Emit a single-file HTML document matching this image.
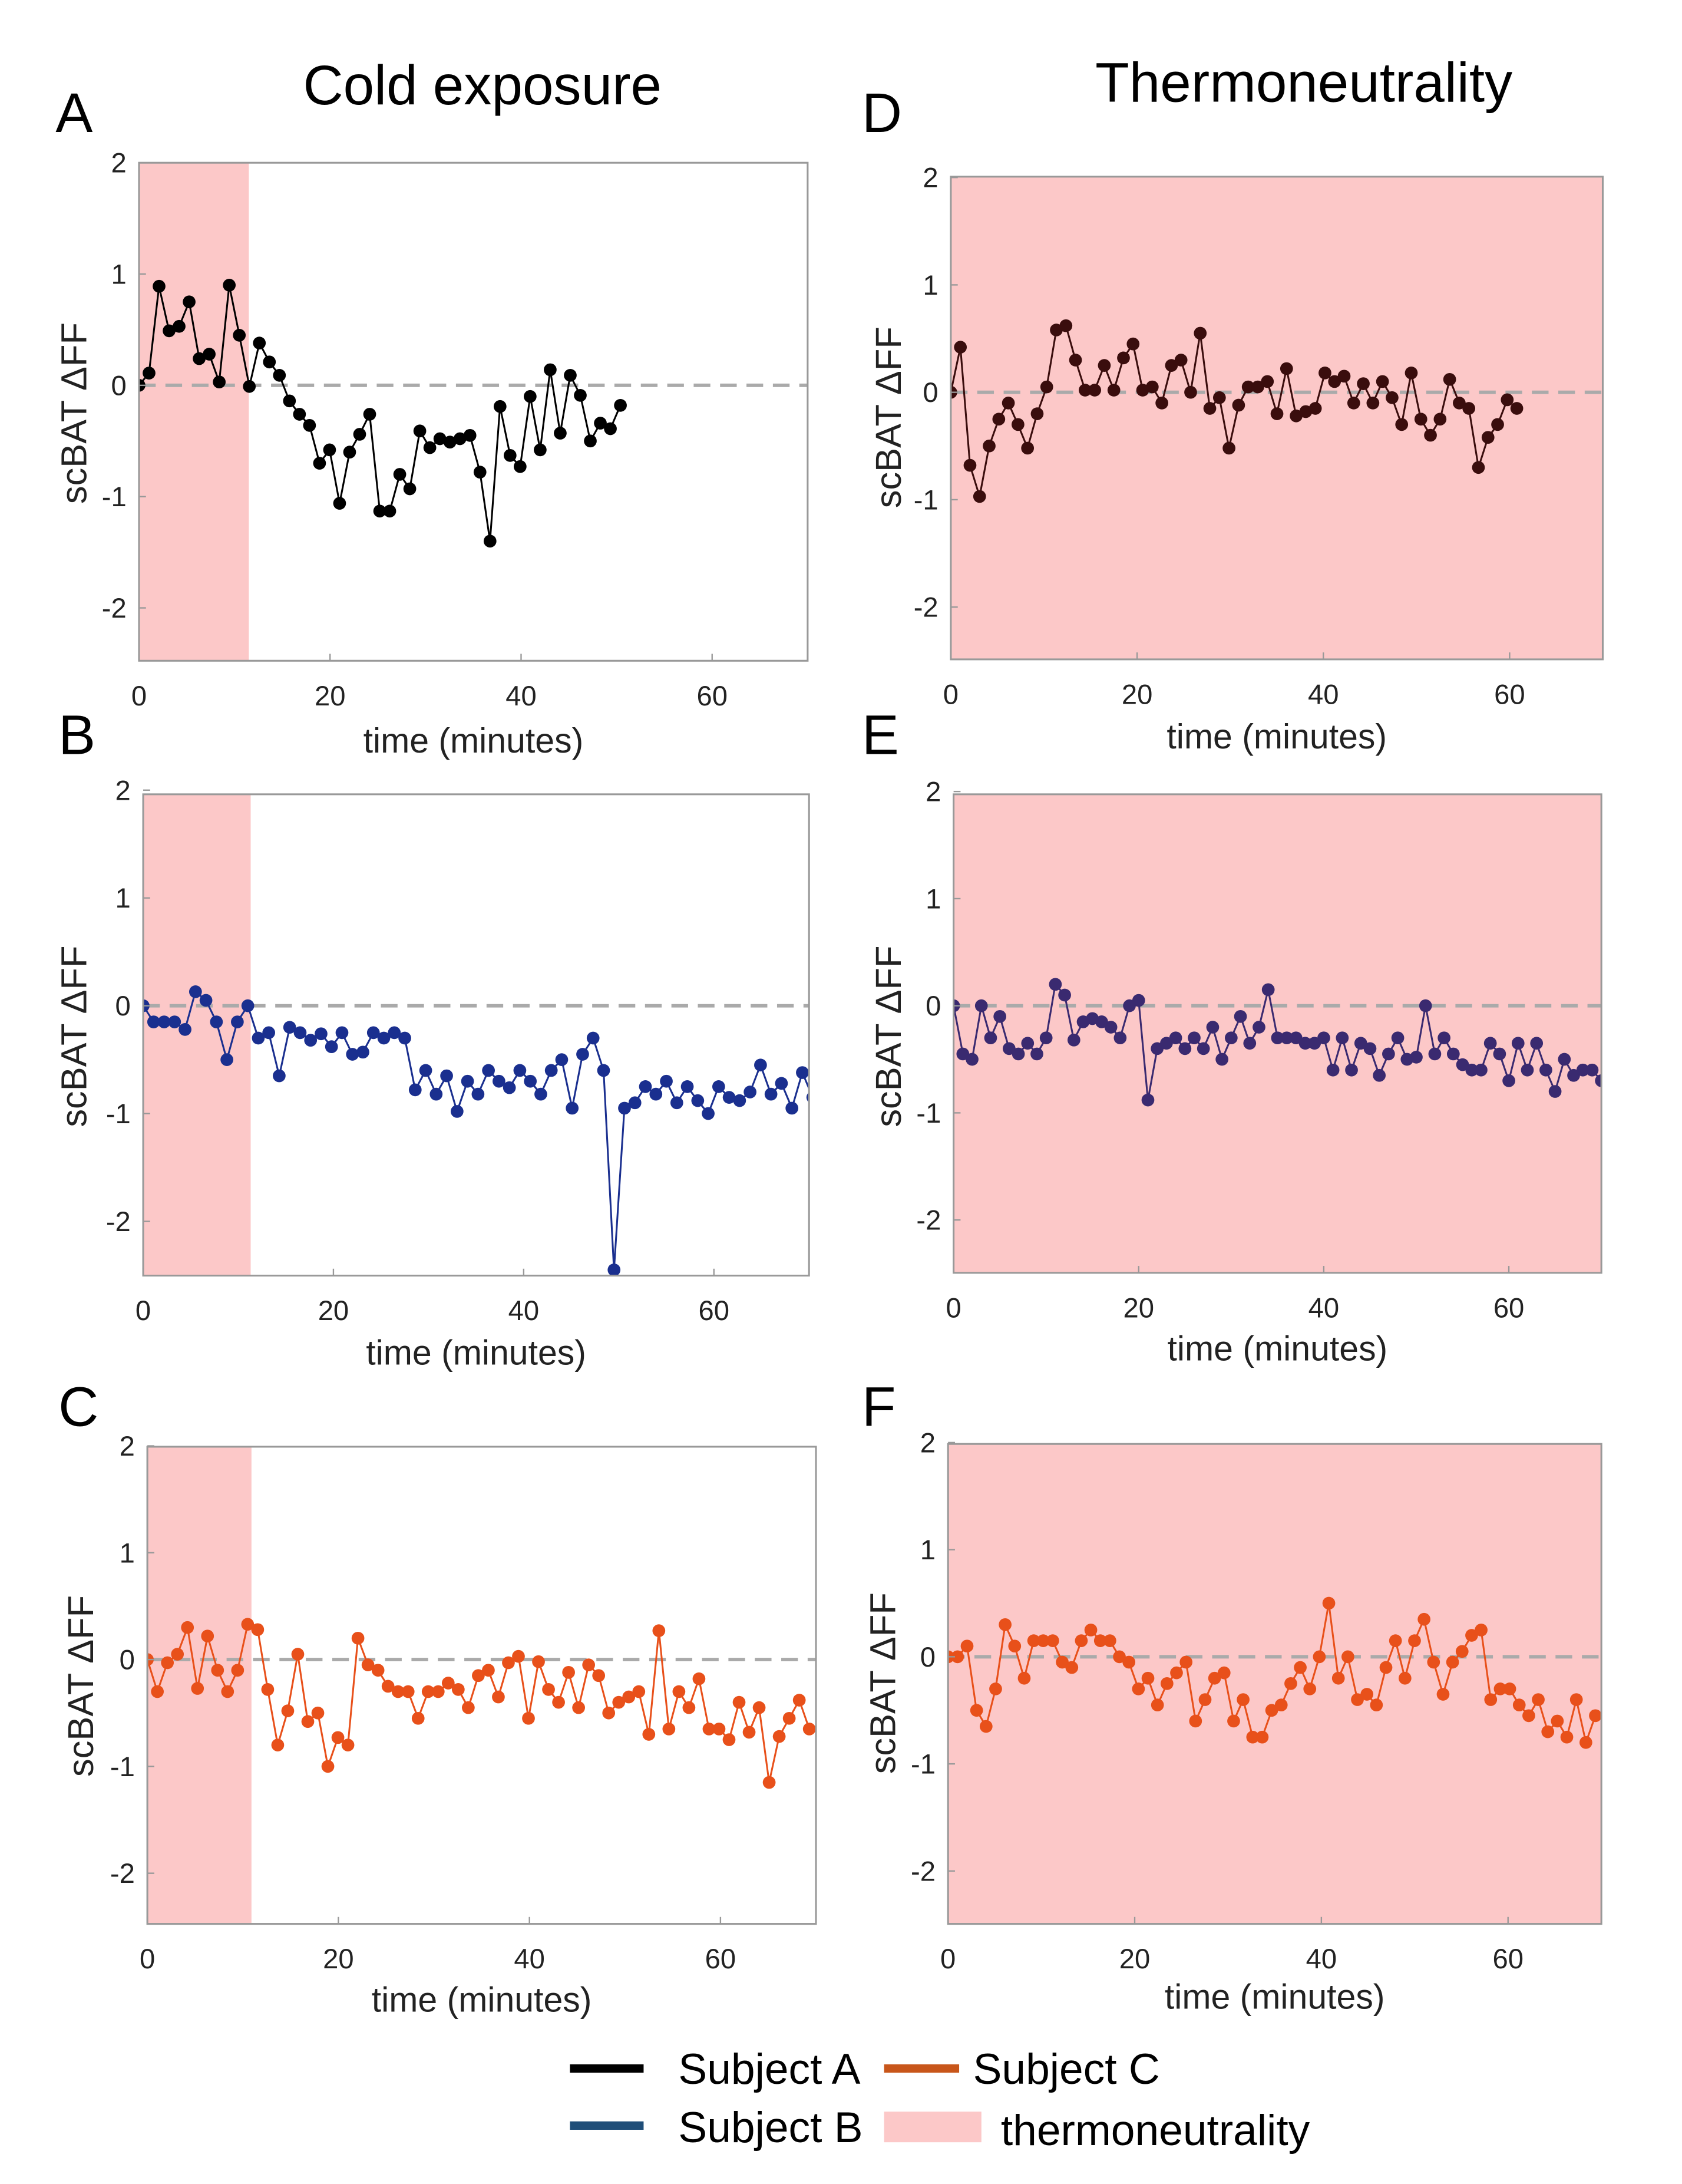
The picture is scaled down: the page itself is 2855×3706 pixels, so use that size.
<!DOCTYPE html>
<html><head><meta charset="utf-8"><style>
html,body{margin:0;padding:0;background:#fff;}
svg{display:block;font-family:"Liberation Sans",sans-serif;}
</style></head><body>
<svg id="fig" width="2855" height="3706" viewBox="0 0 1210 1570" preserveAspectRatio="none" xmlns="http://www.w3.org/2000/svg">
<text x="347" y="75" font-size="40" text-anchor="middle">Cold exposure</text>
<text x="938" y="73" font-size="40" text-anchor="middle">Thermoneutrality</text>
<g id="panels"></g>
<g>
<line x1="410" y1="1487" x2="463" y2="1487" stroke="#000" stroke-width="6"/>
<text x="488" y="1498" font-size="31">Subject A</text>
<line x1="636" y1="1487" x2="690" y2="1487" stroke="#c8561a" stroke-width="6"/>
<text x="700" y="1498" font-size="31">Subject C</text>
<line x1="410" y1="1528" x2="463" y2="1528" stroke="#1f4e79" stroke-width="6"/>
<text x="488" y="1540" font-size="31">Subject B</text>
<rect x="636" y="1518" width="70" height="22" fill="#fcc8c8"/>
<text x="720" y="1542" font-size="31">thermoneutrality</text>
</g>
</svg>
<script>
const xTicks = [0, 20, 40, 60];
const yTicks = [2, 1, 0, -1, -2];
const valuesA = [0,.11,.89,.49,.53,.75,.24,.28,.03,.9,.45,-.01,.38,.21,.09,-.14,-.26,-.36,-.7,-.58,-1.06,-.6,-.44,-.26,-1.13,-1.13,-.8,-.93,-.41,-.56,-.48,-.51,-.48,-.45,-.78,-1.4,-.19,-.63,-.73,-.1,-.58,.14,-.43,.09,-.09,-.5,-.34,-.39,-.18];
const valuesB = [0,-.15,-.15,-.15,-.22,.13,.05,-.15,-.5,-.15,0,-.3,-.25,-.65,-.2,-.25,-.32,-.26,-.38,-.25,-.45,-.43,-.25,-.3,-.25,-.3,-.78,-.6,-.82,-.65,-.98,-.7,-.82,-.6,-.7,-.76,-.6,-.7,-.82,-.6,-.5,-.95,-.45,-.3,-.6,-2.45,-.95,-.9,-.75,-.82,-.7,-.9,-.75,-.88,-1.0,-.75,-.85,-.88,-.8,-.55,-.82,-.72,-.95,-.62,-.85,-.72,-.85,-.55];
const valuesC = [0,-.3,-.03,.05,.3,-.27,.22,-.1,-.3,-.1,.33,.28,-.28,-.8,-.48,.05,-.58,-.5,-1.0,-.73,-.8,.2,-.05,-.1,-.25,-.3,-.3,-.55,-.3,-.3,-.22,-.28,-.45,-.15,-.1,-.35,-.03,.03,-.55,-.02,-.28,-.4,-.12,-.45,-.05,-.15,-.5,-.4,-.35,-.3,-.7,.27,-.65,-.3,-.45,-.18,-.65,-.65,-.75,-.4,-.68,-.45,-1.15,-.72,-.55,-.38,-.65];
const valuesD = [0,.42,-.68,-.97,-.5,-.25,-.1,-.3,-.52,-.2,.05,.58,.62,.3,.02,.02,.25,.02,.32,.45,.02,.05,-.1,.25,.3,0,.55,-.15,-.05,-.52,-.12,.05,.05,.1,-.2,.22,-.22,-.18,-.15,.18,.1,.15,-.1,.08,-.1,.1,-.05,-.3,.18,-.25,-.4,-.25,.12,-.1,-.15,-.7,-.42,-.3,-.07,-.15];
const valuesE = [0,-.45,-.5,0,-.3,-.1,-.4,-.45,-.35,-.45,-.3,.2,.1,-.32,-.15,-.12,-.15,-.2,-.3,0,.05,-.88,-.4,-.35,-.3,-.4,-.3,-.4,-.2,-.5,-.3,-.1,-.35,-.2,.15,-.3,-.3,-.3,-.35,-.35,-.3,-.6,-.3,-.6,-.35,-.4,-.65,-.45,-.3,-.5,-.48,0,-.45,-.3,-.45,-.55,-.6,-.6,-.35,-.45,-.7,-.35,-.6,-.35,-.6,-.8,-.5,-.65,-.6,-.6,-.7];
const valuesF = [0,0,.1,-.5,-.65,-.3,.3,.1,-.2,.15,.15,.15,-.05,-.1,.15,.25,.15,.15,0,-.05,-.3,-.2,-.45,-.25,-.15,-.05,-.6,-.4,-.2,-.15,-.6,-.4,-.75,-.75,-.5,-.45,-.25,-.1,-.3,0,.5,-.2,0,-.4,-.35,-.45,-.1,.15,-.2,.15,.35,-.05,-.35,-.05,.05,.2,.25,-.4,-.3,-.3,-.45,-.55,-.4,-.7,-.6,-.75,-.4,-.8,-.55];
const intervals = {A:1.05, B:1.1, C:1.05, D:1.03, E:1.0, F:1.02};
const pinkEnd = {A:11.5, B:11.3, C:10.9, D:70, E:70, F:70};

const panels = [
 {id:'A',vals:valuesA,col:'#000',line:'#000',x0:100,x1:581,y0:117,y1:475,zy:277,ppu:80,letter:[40,95],lab:[62,297],xl:541},
 {id:'B',vals:valuesB,col:'#1a2f8f',line:'#1a2f8f',x0:103,x1:582,y0:571,y1:917,zy:723,ppu:77.5,letter:[42,542],lab:[62,745],xl:981},
 {id:'C',vals:valuesC,col:'#e8501a',line:'#e8501a',x0:106,x1:587,y0:1040,y1:1383,zy:1193,ppu:76.8,letter:[42,1025],lab:[67,1212],xl:1446},
 {id:'D',vals:valuesD,col:'#3a0d0d',line:'#3a0d0d',x0:684,x1:1153,y0:127,y1:474,zy:282,ppu:77.2,letter:[620,95],lab:[648,300],xl:538},
 {id:'E',vals:valuesE,col:'#3a2a70',line:'#3a2a70',x0:686,x1:1152,y0:571,y1:915,zy:723,ppu:77,letter:[620,542],lab:[648,745],xl:978},
 {id:'F',vals:valuesF,col:'#e8501a',line:'#e8501a',x0:682,x1:1152,y0:1038,y1:1383,zy:1191,ppu:77,letter:[620,1025],lab:[644,1210],xl:1444}
];
const NS='http://www.w3.org/2000/svg';
const root=document.getElementById('panels');
function mk(tag,attrs,parent){const e=document.createElementNS(NS,tag);for(const k in attrs)e.setAttribute(k,attrs[k]);parent.appendChild(e);return e;}
panels.forEach(p=>{
  const g=mk('g',{},root);
  
  
  const xs=t=>p.x0+t*(p.x1-p.x0)/70;
  const ys=v=>p.zy-v*p.ppu;
  const clipId='clip'+p.id;
  const cp=mk('clipPath',{id:clipId},g);
  mk('rect',{x:p.x0,y:p.y0,width:p.x1-p.x0,height:p.y1-p.y0},cp);
  const pk=mk('rect',{x:p.x0,y:p.y0,width:Math.min(xs(pinkEnd[p.id]),p.x1)-p.x0,height:p.y1-p.y0,fill:'#fcc8c8'},g);
  
  
  const zl=mk('line',{x1:p.x0,x2:p.x1,y1:ys(0),y2:ys(0),stroke:'#aaa','stroke-width':2.5,'stroke-dasharray':'12,7'},g);
  
  
  const sg=mk('g',{'clip-path':'url(#'+clipId+')'},g);
  const dt=intervals[p.id];
  const pts=p.vals.map((v,i)=>xs(i*dt).toFixed(1)+','+ys(v).toFixed(1)).join(' ');
  const pl=mk('polyline',{points:pts,fill:'none',stroke:p.line,'stroke-width':1.3},sg);
  
  
  p.vals.forEach((v,i)=>{
    const c=mk('circle',{cx:xs(i*dt),cy:ys(v),r:4.6,fill:p.col},sg);
    
    
  });
  const bx=mk('rect',{x:p.x0,y:p.y0,width:p.x1-p.x0,height:p.y1-p.y0,fill:'none',stroke:'#999','stroke-width':1.3},g);
  
  
  xTicks.forEach(t=>{
    const x=xs(t);
    mk('line',{x1:x,x2:x,y1:p.y1,y2:p.y1-5,stroke:'#999'},g);
    const tx=mk('text',{x:x,y:p.y1+32,'font-size':20,'text-anchor':'middle',fill:'#222'},g);
    tx.textContent=t;
    
    
  });
  yTicks.forEach(t=>{
    const y=ys(t);
    mk('line',{x1:p.x0,x2:p.x0+5,y1:y,y2:y,stroke:'#999'},g);
    const tx=mk('text',{x:p.x0-9,y:y+7,'font-size':20,'text-anchor':'end',fill:'#222'},g);
    tx.textContent=t;
    
    
  });
  const xl=mk('text',{x:(p.x0+p.x1)/2,y:p.xl,'font-size':25,'text-anchor':'middle',fill:'#222'},g);
  xl.textContent='time (minutes)';
  
  
  const yl=mk('text',{x:0,y:0,'font-size':26,'text-anchor':'middle',fill:'#222',transform:'translate('+p.lab[0]+','+p.lab[1]+') rotate(-90)'},g);
  yl.textContent='scBAT \u0394FF';
  
  
  const lt=mk('text',{x:p.letter[0],y:p.letter[1],'font-size':40},g);
  lt.textContent=p.id;
  
  
});
</script>
</body></html>
